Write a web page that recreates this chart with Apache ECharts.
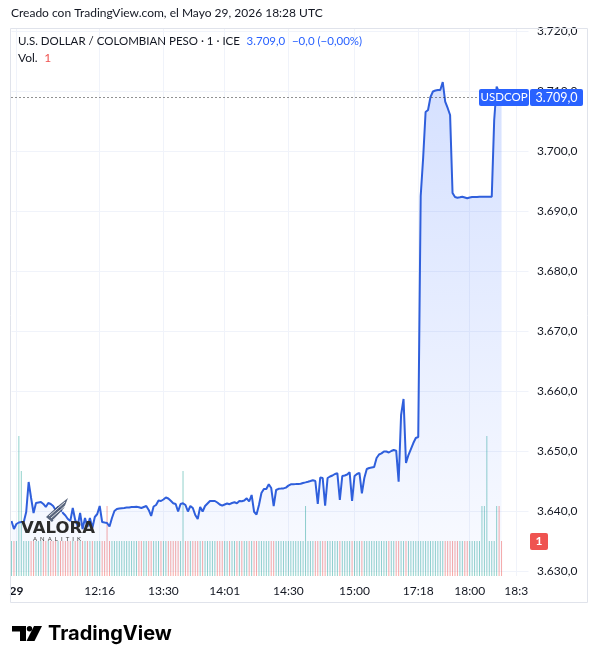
<!DOCTYPE html>
<html><head><meta charset="utf-8">
<script src="https://cdn.jsdelivr.net/npm/echarts@6/dist/echarts.min.js"></script>
<style>html,body{margin:0;padding:0;background:#fff}#c{width:598px;height:664px}</style>
</head><body><div id="c"></div>
<script>
// ---- data ----
const price = [
3638.33, 3637.0, 3637.83, 3638.08, 3638.17, 3638.17, 3639.83, 3644.83, 3642.17, 3639.67,
3641.33, 3641.42, 3641.5, 3641.17, 3640.67, 3641.33, 3641.17, 3640.83, 3640.17, 3640.67,
3640.17, 3639.67, 3639.25, 3638.67, 3638.33, 3640.5, 3638.5, 3637.5, 3639.67, 3637.0,
3638.83, 3637.33, 3638.83, 3637.17, 3639.0, 3639.5, 3640.83, 3638.17, 3638.08, 3638.0,
3637.42, 3638.83, 3640.0, 3640.33, 3640.42, 3640.47, 3640.5, 3640.57, 3640.6, 3640.67,
3640.67, 3640.7, 3640.63, 3640.5, 3640.67, 3640.83, 3640.17, 3639.17, 3640.75, 3641.0,
3641.75, 3641.67, 3641.92, 3642.25, 3642.08, 3641.7, 3641.3, 3641.17, 3639.92, 3641.17,
3641.28, 3641.0, 3639.92, 3640.83, 3640.5, 3639.33, 3638.67, 3640.67, 3639.92, 3640.83,
3641.25, 3641.67, 3641.67, 3641.67, 3641.42, 3641.08, 3640.88, 3641.08, 3641.25, 3641.13,
3641.33, 3641.45, 3641.3, 3641.67, 3641.63, 3641.75, 3642.12, 3641.58, 3642.67, 3639.88,
3639.42, 3641.0, 3643.0, 3643.67, 3643.67, 3644.45, 3643.83, 3640.83, 3643.5, 3643.7,
3643.73, 3643.77, 3643.9, 3644.23, 3644.45, 3644.47, 3644.48, 3644.5, 3644.53, 3644.67,
3644.77, 3644.88, 3645.0, 3645.13, 3645.0, 3641.17, 3645.58, 3645.5, 3640.88, 3645.5,
3645.75, 3645.92, 3646.17, 3646.28, 3641.83, 3645.83, 3645.92, 3646.08, 3646.45, 3641.67,
3645.83, 3646.17, 3646.37, 3642.95, 3645.5, 3647.0, 3647.17, 3647.25, 3647.33, 3648.83,
3649.42, 3649.6, 3649.92, 3649.92, 3649.75, 3650.0, 3650.17, 3650.05, 3644.88, 3656.0,
3658.67, 3648.0, 3649.33, 3650.33, 3651.33, 3652.17, 3652.33, 3692.5, 3698.83, 3706.5,
3706.83, 3709.0, 3709.92, 3710.08, 3710.17, 3710.17, 3711.5, 3708.22, 3707.17, 3706.0,
3693.0, 3692.33, 3692.22, 3692.28, 3692.38, 3692.25, 3692.12, 3692.25, 3692.33, 3692.33,
3692.33, 3692.37, 3692.37, 3692.38, 3692.38, 3692.38, 3692.38, 3705.17, 3710.72, 3709.8,
3709.0
];
const volume = [
1,1,1,4,3,1,1,1,1,1,1,1,1,1,1,1,1,1,1,1,
1,1,1,1,1,1,1,1,1,1,1,1,1,1,1,1,1,1,1,2,
1,1,1,1,1,1,1,1,1,1,1,1,1,1,1,1,1,1,1,1,
1,1,1,1,1,1,1,1,1,1,3,1,1,1,1,1,1,1,1,1,
1,1,1,1,1,1,1,1,1,1,1,1,1,1,1,1,1,1,1,1,
1,1,1,1,1,1,1,1,1,1,1,1,1,1,1,1,1,1,1,1,
2,1,1,1,1,1,1,1,1,1,1,1,1,1,1,1,1,1,1,1,
1,1,1,1,1,1,1,1,1,1,1,1,1,1,1,1,1,1,1,1,
1,1,1,1,1,1,1,1,1,1,1,1,1,1,1,1,1,1,1,1,
1,1,1,1,1,1,1,1,1,1,1,1,2,2,4,1,1,1,2,2,
1
];
const slotCount = 212;
const tickIndex = [2, 36, 62, 87, 113, 140, 166, 187, 206];
const tickText = ['29', '12:16', '13:30', '14:01', '14:30', '15:00', '17:18', '18:00', '18:3'];
const lastPrice = 3709.0;
const lastVolume = 1;
const yMin = 3630, yMax = 3720, yStep = 10;

// ---- chart ----
const categories = Array.from({length: slotCount}, (_, i) => String(i));
const FONT = 'Lato, "Noto Sans", sans-serif';
const TXT = '#131722';
const fmt = v => {
  const s = v.toFixed(1); const [a, b] = s.split('.');
  return a.replace(/\B(?=(\d{3})+(?!\d))/g, '.') + ',' + b;
};
const UP = 'rgba(38,166,154,0.5)', DOWN = 'rgba(239,83,80,0.5)';
const volData = volume.map((v, i) => ({
  value: v,
  itemStyle: {color: (i === 0 || price[i] >= price[i - 1]) ? UP : DOWN}
}));

const gridL = 11.5, plotRight = 528.5, gridR = 598 - plotRight;
const volTop = 28, volBottom = 576, volUnitPx = 35;

const chart = echarts.init(document.getElementById('c'), null, {renderer: 'canvas'});
const option = {
  animation: false,
  backgroundColor: '#fff',
  grid: [
    {left: gridL, right: gridR, top: 31, height: 540},
    {left: gridL, right: gridR, top: volTop, height: volBottom - volTop}
  ],
  xAxis: [
    {type: 'category', gridIndex: 0, data: categories, boundaryGap: false, show: false},
    {type: 'category', gridIndex: 1, data: categories, boundaryGap: false,
     axisLine: {show: false}, axisTick: {show: false},
     axisLabel: {
       interval: (i) => tickIndex.includes(i),
       formatter: (v) => {
         const k = tickIndex.indexOf(+v);
         if (k < 0) return '';
         return k === 0 ? '{d|' + tickText[k] + '}' : tickText[k];
       },
       margin: 9, color: TXT, fontSize: 12, fontFamily: FONT,
       rich: {d: {fontWeight: 'bold', fontSize: 12, fontFamily: FONT, color: TXT}}
     },
     splitLine: {show: true, interval: (i) => tickIndex.includes(i), lineStyle: {color: '#f0f3fa', width: 1}}
    }
  ],
  yAxis: [
    {type: 'value', gridIndex: 0, position: 'right', min: yMin, max: yMax, interval: yStep,
     axisLine: {show: false}, axisTick: {show: false},
     axisLabel: {formatter: fmt, margin: 8.5, color: TXT, fontSize: 12, fontFamily: FONT},
     splitLine: {show: true, lineStyle: {color: '#f0f3fa', width: 1}}},
    {type: 'value', gridIndex: 1, min: 0, max: (volBottom - volTop) / volUnitPx, show: false}
  ],
  series: [
    {type: 'bar', xAxisIndex: 1, yAxisIndex: 1, data: volData, barWidth: 1, silent: true},
    {type: 'line', xAxisIndex: 0, yAxisIndex: 0, data: price, symbol: 'none', silent: true,
     lineStyle: {color: '#2f5fdc', width: 2},
     areaStyle: {color: new echarts.graphic.LinearGradient(0, 0, 0, 1, [
       {offset: 0, color: 'rgba(41,98,255,0.28)'},
       {offset: 1, color: 'rgba(41,98,255,0.04)'}
     ])},
     markLine: {silent: true, symbol: 'none', label: {show: false},
       lineStyle: {type: [1, 3], color: '#222', width: 1}, data: [{yAxis: lastPrice}]}}
  ]
};
chart.setOption(option);

const yLast = chart.convertToPixel({yAxisIndex: 0}, lastPrice);
const yVol = chart.convertToPixel({yAxisIndex: 1}, lastVolume);

chart.setOption({graphic: [
  {type: 'rect', z: 50, shape: {x: 10.5, y: 28.5, width: 577, height: 574}, style: {fill: 'none', stroke: '#e0e3eb', lineWidth: 1}},
  {type: 'text', z: 60, left: 11, top: 7, style: {text: 'Creado con TradingView.com, el Mayo 29, 2026 18:28 UTC', fill: TXT, fontSize: 12, fontFamily: FONT}},
  {type: 'text', z: 60, left: 18, top: 35, style: {
    text: '{a|U.S. DOLLAR / COLOMBIAN PESO · 1 · ICE}  {b|' + fmt(lastPrice) + '}  {b|−0,0 (−0,00%)}',
    rich: {a: {fill: TXT, fontSize: 11.5, fontFamily: FONT}, b: {fill: '#2962ff', fontSize: 11.5, fontFamily: FONT}}}},
  {type: 'text', z: 60, left: 18, top: 52, style: {
    text: '{a|Vol.}  {r|' + lastVolume + '}',
    rich: {a: {fill: TXT, fontSize: 12, fontFamily: FONT}, r: {fill: '#ef5350', fontSize: 12, fontFamily: FONT}}}},
  // last price labels
  {type: 'rect', z: 70, shape: {x: 479, y: yLast - 8, width: 50, height: 17, r: 2}, style: {fill: '#2962ff'}},
  {type: 'text', z: 71, x: 504, y: yLast + 0.5, style: {text: 'USDCOP', fill: '#fff', fontSize: 11.5, fontFamily: FONT, align: 'center', verticalAlign: 'middle'}},
  {type: 'rect', z: 70, shape: {x: 530, y: yLast - 8, width: 53, height: 17, r: 2}, style: {fill: '#2962ff'}},
  {type: 'text', z: 71, x: 556.5, y: yLast + 0.5, style: {text: fmt(lastPrice), fill: '#fff', fontSize: 12.5, fontFamily: FONT, align: 'center', verticalAlign: 'middle'}},
  // last volume label
  {type: 'rect', z: 70, shape: {x: 530, y: yVol - 8, width: 18, height: 17, r: 2}, style: {fill: '#ef5350'}},
  {type: 'text', z: 71, x: 539, y: yVol + 0.5, style: {text: String(lastVolume), fill: '#fff', fontSize: 12, fontWeight: 'bold', fontFamily: FONT, align: 'center', verticalAlign: 'middle'}},
  // VALORA ANALITIK watermark
  {type: 'polygon', z: 80, shape: {points: [[46,517],[58,506],[68,498],[64,508],[57,516],[52,522]]}, style: {fill: '#3d4b66', opacity: 0.85}},
  {type: 'polyline', z: 81, shape: {points: [[49,516],[65,502]]}, style: {stroke: '#fff', lineWidth: 0.8}},
  {type: 'polyline', z: 81, shape: {points: [[51,518],[65,506]]}, style: {stroke: '#fff', lineWidth: 0.8}},
  {type: 'polyline', z: 81, shape: {points: [[53,520],[63,511]]}, style: {stroke: '#fff', lineWidth: 0.8}},
  {type: 'text', z: 82, x: 58, y: 529, style: {text: 'VALORA', fill: '#2b2b2b', fontSize: 16.5, fontWeight: 'bold', fontFamily: '"DejaVu Sans", sans-serif', align: 'center', verticalAlign: 'middle'}},
  {type: 'text', z: 82, x: 57, y: 539, style: {text: 'A  N  A  L  I  T  I  K', fill: '#333', fontSize: 6, fontFamily: FONT, align: 'center', verticalAlign: 'middle'}},
  // TradingView logo
  {type: 'polygon', z: 60, shape: {points: [[12,626],[26,626],[26,641],[20,641],[20,631.5],[12,631.5]]}, style: {fill: '#000'}},
  {type: 'circle', z: 60, shape: {cx: 29.5, cy: 628.7, r: 2.7}, style: {fill: '#000'}},
  {type: 'polygon', z: 60, shape: {points: [[34,626],[42,626],[34.5,641],[26.5,641]]}, style: {fill: '#000'}},
  {type: 'text', z: 60, x: 48, y: 634, style: {text: 'TradingView', fill: '#000', fontSize: 20, fontWeight: 'bold', fontFamily: 'Inter, sans-serif', verticalAlign: 'middle'}}
]});
</script>
</body></html>
